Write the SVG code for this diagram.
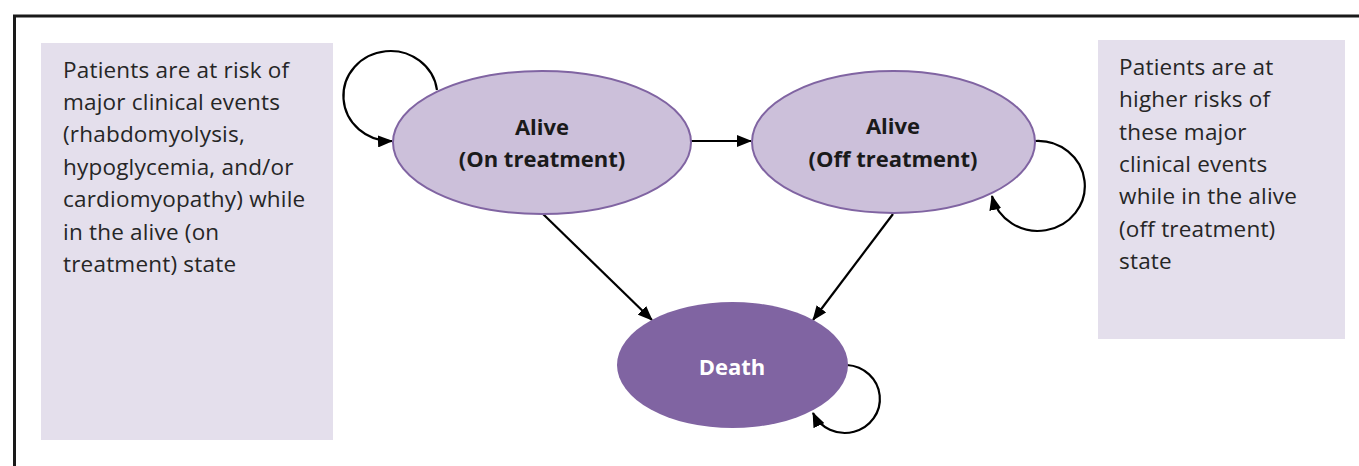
<svg xmlns="http://www.w3.org/2000/svg" width="1359" height="466" viewBox="0 0 1359 466">
  <defs>
    <marker id="arrow" viewBox="0 0 15 12" refX="14" refY="6" markerWidth="15" markerHeight="12" markerUnits="userSpaceOnUse" orient="auto">
      <path d="M0,0 L15,6 L0,12 Z" fill="#000"/>
    </marker>
    <style>
      .note { fill: #e4dfec; }
      .note-text { font-family: "Open Sans", "Liberation Sans", sans-serif; font-size: 22.5px; letter-spacing: 0.2px; fill: #262626; }
      .state { fill: #ccc0da; stroke: #8064a2; stroke-width: 2; }
      .state-text { font-family: "Open Sans", "Liberation Sans", sans-serif; font-size: 22px; font-weight: bold; fill: #1a1a1a; text-anchor: middle; }
      .absorb { fill: #8064a2; }
      .absorb-text { font-family: "Open Sans", "Liberation Sans", sans-serif; font-size: 22px; font-weight: bold; fill: #ffffff; text-anchor: middle; }
      .edge { fill: none; stroke: #000; stroke-width: 2.2; marker-end: url(#arrow); }
    </style>
  </defs>

  <rect width="1359" height="466" fill="#ffffff"/>
  <!-- frame (continues past the right and bottom edges) -->
  <rect x="14.5" y="16" width="1360" height="470" fill="none" stroke="#1a1a1a" stroke-width="3"/>

  <g id="note-on-treatment">
    <rect class="note" x="41" y="43" width="292" height="397"/>
    <text class="note-text">
      <tspan x="63" y="78">Patients are at risk of</tspan>
      <tspan x="63" y="110">major clinical events</tspan>
      <tspan x="63" y="142">(rhabdomyolysis,</tspan>
      <tspan x="63" y="175">hypoglycemia, and/or</tspan>
      <tspan x="63" y="207">cardiomyopathy) while</tspan>
      <tspan x="63" y="240">in the alive (on</tspan>
      <tspan x="63" y="272">treatment) state</tspan>
    </text>
  </g>

  <g id="note-off-treatment">
    <rect class="note" x="1098" y="40" width="247" height="299"/>
    <text class="note-text">
      <tspan x="1119" y="75">Patients are at</tspan>
      <tspan x="1119" y="107">higher risks of</tspan>
      <tspan x="1119" y="140">these major</tspan>
      <tspan x="1119" y="172">clinical events</tspan>
      <tspan x="1119" y="204">while in the alive</tspan>
      <tspan x="1119" y="237">(off treatment)</tspan>
      <tspan x="1119" y="269">state</tspan>
    </text>
  </g>

  <g id="connectors">
    <!-- self transitions -->
    <path class="edge" d="M437,90 A47,45 0 1 0 392,141"/>
    <path class="edge" d="M1035,141 A47,45 0 1 1 992,196"/>
    <path class="edge" d="M847,365 A35,34 0 1 1 813,413"/>
    <!-- on treatment -> off treatment -->
    <path class="edge" d="M691,141 L751,141"/>
    <!-- transitions to death -->
    <path class="edge" d="M543,214 L652,320"/>
    <path class="edge" d="M893,214 L813,320"/>
  </g>

  <g id="alive-on-treatment">
    <ellipse class="state" cx="542" cy="142.5" rx="149" ry="71.5"/>
    <text class="state-text" x="542" y="135">Alive</text>
    <text class="state-text" x="542" y="167">(On treatment)</text>
  </g>

  <g id="alive-off-treatment">
    <ellipse class="state" cx="893.5" cy="142" rx="141.5" ry="71"/>
    <text class="state-text" x="893" y="134">Alive</text>
    <text class="state-text" x="893" y="167">(Off treatment)</text>
  </g>

  <g id="death">
    <ellipse class="absorb" cx="732.5" cy="365" rx="115.5" ry="63"/>
    <text class="absorb-text" x="732" y="375">Death</text>
  </g>
</svg>
